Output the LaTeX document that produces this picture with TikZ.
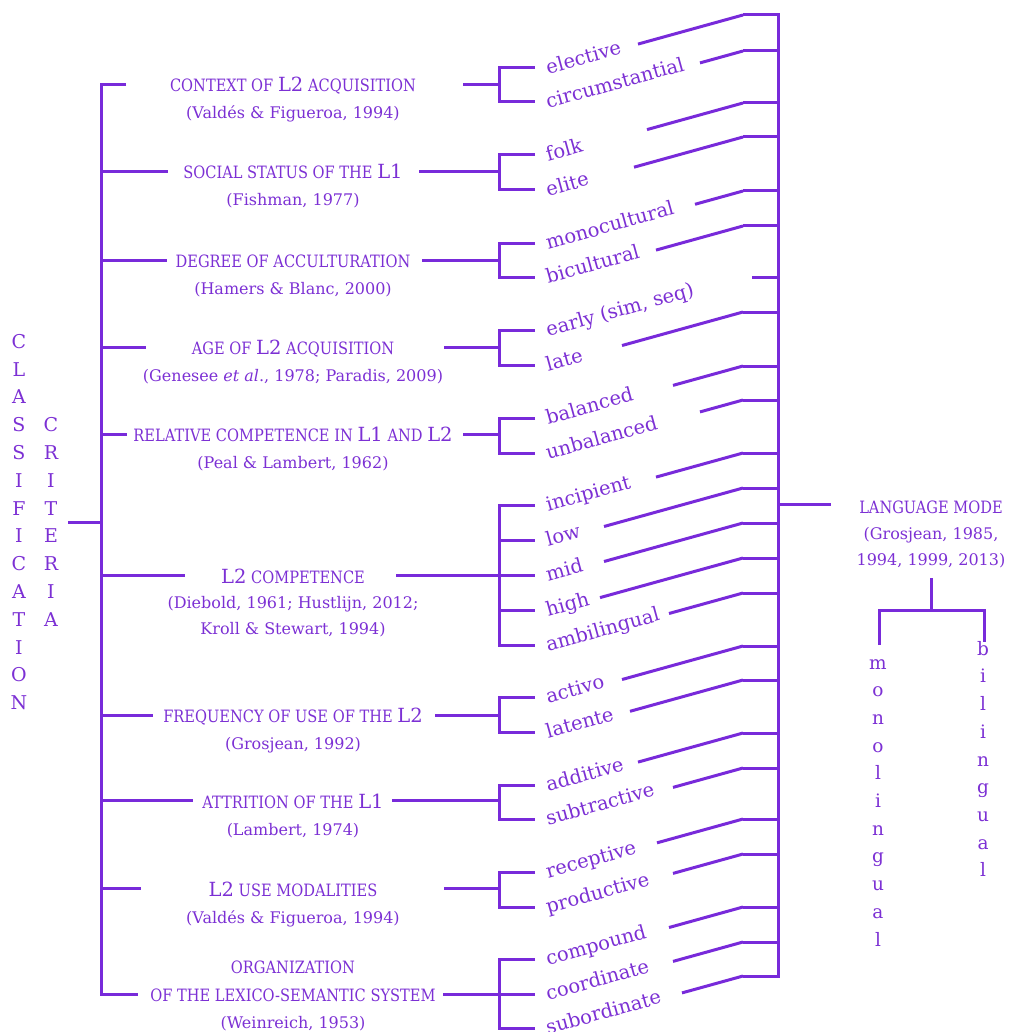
\documentclass[tikz,border=0pt]{standalone}
\usepackage{fontspec}
\setmainfont{DejaVu Serif}
\newfontfamily\capsfont{DejaVu Serif}[FakeStretch=0.86]
\definecolor{vline}{RGB}{120,42,218}
\definecolor{vtext}{RGB}{124,48,212}
\newcommand{\Lx}[1]{{\fontsize{19.5}{26}\selectfont\rmfamily #1}}
\tikzset{
  ln/.style={draw=vline, line width=3pt},
  ttl/.style={text=vtext, font=\fontsize{17}{26}\selectfont\capsfont, anchor=base, inner sep=0pt},
  cit/.style={text=vtext, font=\fontsize{16}{26}\selectfont, anchor=base, inner sep=0pt},
  lab/.style={text=vtext, font=\fontsize{19.5}{26}\selectfont, anchor=base west, rotate=15.5, inner sep=0pt},
  vlet/.style={text=vtext, font=\fontsize{19}{27.8}\selectfont, align=center, anchor=north, inner sep=0pt},
  vlets/.style={text=vtext, font=\fontsize{18.5}{27.7}\selectfont, align=center, anchor=north, inner sep=0pt}
}
\begin{document}
\begin{tikzpicture}[x=1pt,y=-1pt]
\useasboundingbox (0,0) rectangle (1010,1032);

% vertical words
\node[vlet] (cls) at (19,334) {C\\L\\A\\S\\S\\I\\F\\I\\C\\A\\T\\I\\O\\N};
\node[vlet] (crit) at (51,417.4) {C\\R\\I\\T\\E\\R\\I\\A};

% main left tree
\draw[ln] (68,522) -- (101,522);
\draw[ln] (126,85) -- (101,85) -- (101,994) -- (138,994);
\foreach \y/\xl in {172/168, 260/167, 347/146, 434/127, 575/185, 715/153, 800/193, 888/141}
  \draw[ln] (101,\y) -- (\xl,\y);

% category texts
\node[ttl] (t1) at (293,92) {CONTEXT OF \Lx{L2} ACQUISITION};
\node[cit] (c1) at (293,119) {(Valdés \& Figueroa, 1994)};
\node[ttl] (t2) at (293,179) {SOCIAL STATUS OF THE \Lx{L1}};
\node[cit] (c2) at (293,206) {(Fishman, 1977)};
\node[ttl] (t3) at (293,267) {DEGREE OF ACCULTURATION};
\node[cit] (c3) at (293,294) {(Hamers \& Blanc, 2000)};
\node[ttl] (t4) at (293,354) {AGE OF \Lx{L2} ACQUISITION};
\node[cit] (c4) at (293,381) {(Genesee \textit{et al}., 1978; Paradis, 2009)};
\node[ttl] (t5) at (293,441) {RELATIVE COMPETENCE IN \Lx{L1} AND \Lx{L2}};
\node[cit] (c5) at (293,468) {(Peal \& Lambert, 1962)};
\node[ttl] (t6) at (293,583) {\Lx{L2} COMPETENCE};
\node[cit] (c6) at (293,608) {(Diebold, 1961; Hustlijn, 2012;};
\node[cit] (c6b) at (293,634) {Kroll \& Stewart, 1994)};
\node[ttl] (t7) at (293,722) {FREQUENCY OF USE OF THE \Lx{L2}};
\node[cit] (c7) at (293,749) {(Grosjean, 1992)};
\node[ttl] (t8) at (293,808) {ATTRITION OF THE \Lx{L1}};
\node[cit] (c8) at (293,835) {(Lambert, 1974)};
\node[ttl] (t9) at (293,896) {\Lx{L2} USE MODALITIES};
\node[cit] (c9) at (293,923) {(Valdés \& Figueroa, 1994)};
\node[ttl] (t10a) at (293,973) {ORGANIZATION};
\node[ttl] (t10) at (293,1001) {OF THE LEXICO-SEMANTIC SYSTEM};
\node[cit] (c10) at (293,1028) {(Weinreich, 1953)};

% right stubs and brackets
\foreach \y/\xr/\ya/\yb in {85/463/68/102, 172/419/155/190, 260/422/243/277, 347/444/330/365, 434/463/418/453, 575/396/505/645, 715/435/697/732, 800/392/785/819, 888/444/872/907, 994/443/959/1028}{
  \draw[ln] (\xr,\y) -- (499,\y);
  \draw[ln] (535,\ya) -- (499,\ya) -- (499,\yb) -- (535,\yb);
}
\foreach \y in {540,575,610,994}
  \draw[ln] (499,\y) -- (535,\y);

% labels
\foreach \y/\txt [count=\i] in {68/elective, 102/circumstantial, 155/folk, 190/elite, 243/monocultural, 277/bicultural, 330/{early (sim, seq)}, 365/late, 418/balanced, 453/unbalanced, 505/incipient, 540/low, 575/mid, 610/high, 645/ambilingual, 697/activo, 732/latente, 785/additive, 819/subtractive, 872/receptive, 907/productive, 959/compound, 994/coordinate, 1028/subordinate}
  \node[lab] (lab\i) at (548,\y+6.5) {\txt};

% right spine
\draw[ln] (743,15) -- (778,15) -- (778,976) -- (743,976);
\draw[ln] (752,277) -- (778,277);
\foreach \ty in {51,103,137,191,226,312,366,400,453,488,523,558,593,646,680,733,768,819,854,907,942}
  \draw[ln] (743,\ty) -- (778,\ty);
\foreach \ty/\xe in {15/638, 51/700, 103/647, 137/634, 191/695, 226/656, 312/622, 366/673, 400/700, 453/656, 488/604, 523/604, 558/600, 593/669, 646/622, 680/630, 733/638, 768/673, 819/657, 854/673, 907/669, 942/673, 976/682}
  \draw[ln] (743,\ty) -- (\xe,{\ty+(743-\xe)*0.277});

% language mode
\draw[ln] (778,504) -- (831,504);
\node[ttl] (lm) at (931,513) {LANGUAGE MODE};
\node[cit] (lm1) at (931,539) {(Grosjean, 1985,};
\node[cit] (lm2) at (931,565) {1994, 1999, 2013)};
\draw[ln] (931,578) -- (931,610);
\draw[ln] (879,645) -- (879,610) -- (984,610) -- (984,642);
\node[vlets] (mono) at (878,659) {m\\o\\n\\o\\l\\i\\n\\g\\u\\a\\l};
\node[vlets] (bil) at (983,641) {b\\i\\l\\i\\n\\g\\u\\a\\l};
\end{tikzpicture}
\end{document}
